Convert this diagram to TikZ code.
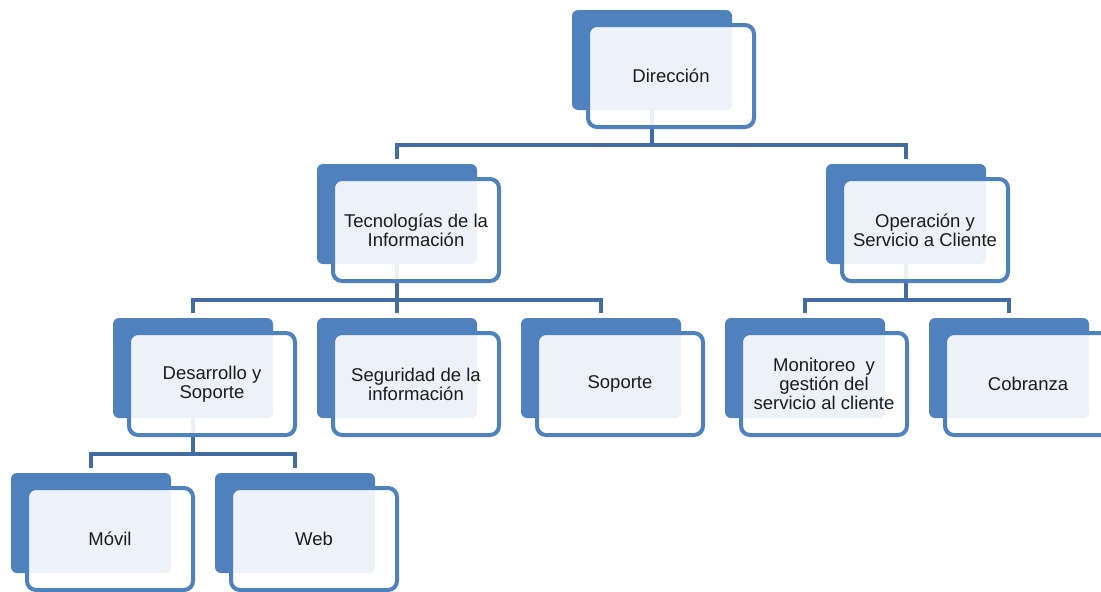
\documentclass[tikz,border=0pt]{standalone}
\usepackage{fontspec}
\setmainfont{Liberation Sans}
\definecolor{boxblue}{RGB}{79,129,189}
\definecolor{linkblue}{RGB}{66,108,163}
\definecolor{txt}{RGB}{28,28,28}
\begin{document}
\begin{tikzpicture}[x=1pt,y=-1pt,
  backbox/.style={fill=boxblue, rounded corners=6pt, minimum width=160pt, minimum height=100pt, inner sep=0pt},
  frontbox/.style={draw=boxblue, line width=4pt, fill=white, fill opacity=0.9, text opacity=1, draw opacity=1,
    rounded corners=9pt, minimum width=166pt, minimum height=102pt, inner sep=0pt, align=center,
    text=txt, font=\fontsize{18.5}{19}\selectfont},
  conn/.style={draw=linkblue, line width=4.5pt, shorten >=5pt}]
\clip (0,0) rectangle (1101,592);
% back boxes
\node[backbox] (dirB) at (652,60) {};
\node[backbox] (tecB) at (397,214) {};
\node[backbox] (opeB) at (906,214) {};
\node[backbox] (desB) at (193,368) {};
\node[backbox] (segB) at (397,368) {};
\node[backbox] (sopB) at (601,368) {};
\node[backbox] (monB) at (805,368) {};
\node[backbox] (cobB) at (1009,368) {};
\node[backbox] (movB) at (91,523) {};
\node[backbox] (webB) at (295,523) {};
% connectors
\draw[conn] (dirB.south) |- ([yshift=19pt]tecB.north) -- (tecB.north);
\draw[conn] (dirB.south) |- ([yshift=19pt]opeB.north) -- (opeB.north);
\draw[conn] (tecB.south) |- ([yshift=18pt]desB.north) -- (desB.north);
\draw[conn] (tecB.south) |- ([yshift=18pt]segB.north) -- (segB.north);
\draw[conn] (tecB.south) |- ([yshift=18pt]sopB.north) -- (sopB.north);
\draw[conn] (opeB.south) |- ([yshift=18pt]monB.north) -- (monB.north);
\draw[conn] (opeB.south) |- ([yshift=18pt]cobB.north) -- (cobB.north);
\draw[conn] (desB.south) |- ([yshift=19pt]movB.north) -- (movB.north);
\draw[conn] (desB.south) |- ([yshift=19pt]webB.north) -- (webB.north);
% front boxes
\node[frontbox] (dir) at (671,76) {Dirección};
\node[frontbox] (tec) at (416,230) {Tecnologías de la\\Información};
\node[frontbox] (ope) at (925,230) {Operación y\\Servicio a Cliente};
\node[frontbox] (des) at (212,384) {Desarrollo y\\Soporte};
\node[frontbox] (seg) at (416,384) {Seguridad de la\\información};
\node[frontbox] (sop) at (620,384) {Soporte};
\node[frontbox] (mon) at (824,384) {Monitoreo\ \ y\\gestión del\\servicio al cliente};
\node[frontbox] (cob) at (1028,384) {Cobranza};
\node[frontbox] (mov) at (110,539) {Móvil};
\node[frontbox] (web) at (314,539) {Web};
\end{tikzpicture}
\end{document}
